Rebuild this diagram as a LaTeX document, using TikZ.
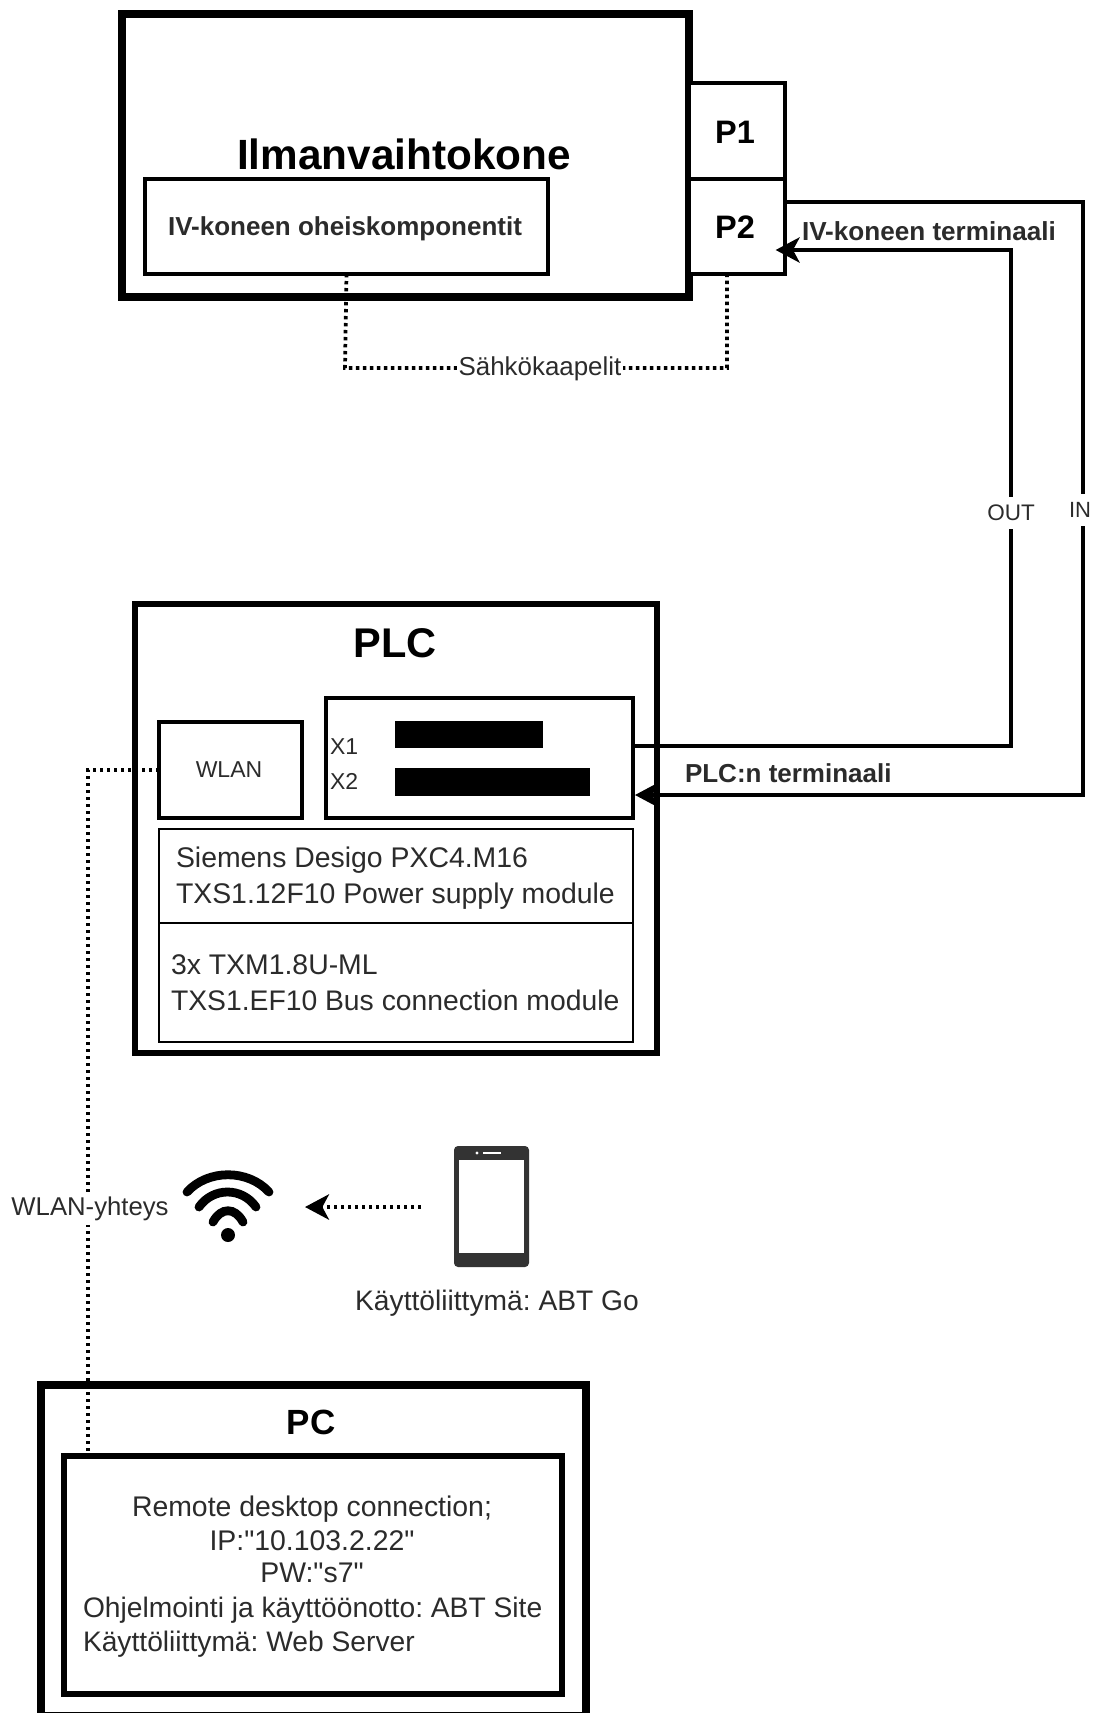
\documentclass[tikz,border=0pt]{standalone}
\usepackage{fontspec}
\setmainfont{Liberation Sans}
\newfontfamily\plainquote{Liberation Sans}[Ligatures=NoCommon]
\usetikzlibrary{arrows.meta}
\definecolor{txt}{HTML}{2B2B2B}
\newcommand{\pxfont}[1]{\fontsize{\dimexpr#1pt*3/4\relax}{\dimexpr#1pt*9/10\relax}\selectfont}
\newcommand{\bx}[6]{% name,x1,y1,x2,y2,style
  \pgfmathsetmacro{\bw}{(#4-#2)*0.75}\pgfmathsetmacro{\bh}{(#5-#3)*0.75}
  \node[#6,minimum width=\bw pt,minimum height=\bh pt] (#1) at ({(#2+#4)/2},{(#3+#5)/2}) {};}
\tikzset{
  x=0.75pt,y=-0.75pt,
  frame/.style={draw=black,fill=white,inner sep=0pt,outer sep=0pt,rectangle},
  bar/.style={draw=none,fill=black,inner sep=0pt,outer sep=0pt,rectangle},
  lab/.style={inner sep=0pt,outer sep=0pt,text=txt},
  wire/.style={line width=2.6pt,draw=black,line join=miter},
  arr/.style={-{Stealth[length=18pt,width=19pt,inset=5pt]}},
  dots/.style={line width=2.8pt,draw=black,dash pattern=on 2.6pt off 2.65pt},
  gap/.style={lab,fill=white,inner xsep=1pt,inner ysep=1pt},
  tallgap/.style={lab,fill=white,inner xsep=1pt,inner ysep=6pt},
}
\begin{document}
\frenchspacing
\begin{tikzpicture}
\useasboundingbox (0,0) rectangle (1099,1713);
\fill[white] (0,0) rectangle (1099,1713);
% ventilation unit
\bx{iv}{122}{14}{689}{297}{frame,line width=5.6pt}
\bx{pa}{689}{83}{785}{179}{frame,line width=2.7pt}
\bx{pb}{689}{179}{785}{274}{frame,line width=2.7pt}
\bx{oh}{145}{179}{548}{274}{frame,line width=2.7pt}
\node[lab,text=black,font=\pxfont{42.3}\bfseries] (ivt) at (404,154) {Ilmanvaihtokone};
\node[lab,text=black,font=\pxfont{32.5}\bfseries] (pat) at (735,132) {P1};
\node[lab,text=black,font=\pxfont{32.5}\bfseries] (pbt) at (735,227) {P2};
\node[lab,font=\pxfont{26}\bfseries] (oht) at (345,229) {IV-koneen oheiskomponentit};
% PLC
\bx{plc}{135}{604}{657}{1053}{frame,line width=4.2pt}
\bx{wl}{159}{722}{302}{818}{frame,line width=2.7pt}
\bx{xb}{326}{698}{633}{818}{frame,line width=2.7pt}
\bx{ba}{395}{721}{543}{748}{bar}
\bx{bb}{395}{768}{590}{796}{bar}
\bx{ta}{159}{829}{633}{923}{frame,line width=1.6pt}
\bx{tb}{159}{923}{633}{1042}{frame,line width=1.6pt}
\node[lab,text=black,font=\pxfont{41.5}\bfseries] (plct) at (395,643) {PLC};
\node[lab,font=\pxfont{23}] (wlt) at (229,770) {WLAN};
\node[lab,font=\pxfont{23},anchor=west] (x1) at (330,747) {X1};
\node[lab,font=\pxfont{23},anchor=west] (x2) at (330,781) {X2};
\node[lab,font=\pxfont{28.4},anchor=west] (t1) at (176,860) {Siemens Desigo PXC4.M16};
\node[lab,font=\pxfont{28.4},anchor=west] (t2) at (176,896) {TXS1.12F10 Power supply module};
\node[lab,font=\pxfont{28.4},anchor=west] (t3) at (171,965) {3x TXM1.8U-ML};
\node[lab,font=\pxfont{28.3},anchor=west] (t4) at (171,1000) {TXS1.EF10 Bus connection module};
% PC
\bx{pc}{41}{1385}{586}{1716}{frame,line width=6.2pt}
\bx{rd}{64}{1456}{562}{1694}{frame,line width=4.8pt}
\node[lab,text=black,font=\pxfont{35}\bfseries] (pct) at (311,1422) {PC};
\node[lab,font=\pxfont{28.4}] (r1) at (312,1509) {Remote desktop connection;};
\node[lab,font=\pxfont{28.4}\plainquote] (r2) at (312,1541) {IP:"10.103.2.22"};
\node[lab,font=\pxfont{28.4}\plainquote] (r3) at (312,1573) {PW:"s7"};
\node[lab,font=\pxfont{28.2},anchor=west] (r4) at (83,1610) {Ohjelmointi ja käyttöönotto: ABT Site};
\node[lab,font=\pxfont{28.2},anchor=west] (r5) at (83,1644) {Käyttöliittymä: Web Server};
% connectors
\coordinate (inr) at (1083,202);
\coordinate (inb) at (1083,795);
\coordinate (outr) at (1011,746);
\coordinate (outt) at (1011,250);
\coordinate (dotl) at (345,368);
\coordinate (dotr) at (727,368);
\coordinate (wlc) at (88,770);
\draw[dots] (oh.south) -- (dotl) -- (dotr) -- (dotr |- pb.south);
\draw[dots] (wl.west) -- (wlc) -- (wlc |- rd.north);
\draw[wire,arr] (pb.east |- inr) -- (inr) -- (inb) -- ([xshift=1.5pt]xb.east |- inb);
\draw[wire,arr] (xb.east |- outr) -- (outr) -- (outt) -- ([xshift=-7pt]pb.east |- outt);
\node[tallgap,font=\pxfont{22}] (lin) at (1080,510) {IN};
\node[tallgap,font=\pxfont{22.5}] (lout) at (1011,513) {OUT};
\node[gap,font=\pxfont{25.9}] (lsa) at (540,369) {Sähkökaapelit};
\node[lab,fill=white,inner xsep=1pt,inner ysep=3pt,font=\pxfont{25.7}] (lwl) at (90,1209) {WLAN-yhteys};
\node[lab,font=\pxfont{26.1}\bfseries,anchor=west] (liv) at (802,231) {IV-koneen terminaali};
\node[lab,font=\pxfont{26}\bfseries,anchor=west] (lplc) at (685,773) {PLC:n terminaali};
% wifi icon
\begin{scope}[line width=6.6pt,line cap=round,draw=black]
\draw (187,1192) .. controls (208,1169) and (248,1169) .. (269,1192);
\draw (199,1207) .. controls (213,1187) and (242,1187) .. (256,1207);
\draw (213,1222) .. controls (221,1207) and (235,1207) .. (243,1222);
\fill[black] (228,1235) circle (5.25pt);
\end{scope}
% phone
\bx{ph}{454}{1146}{529}{1267}{rectangle,fill=black!80,rounded corners=3pt,inner sep=0pt,outer sep=0pt}
\bx{scr}{459}{1160}{524}{1253}{rectangle,fill=white,inner sep=0pt,outer sep=0pt}
\fill[white] (477,1153) circle (1.2pt);
\fill[white] (483,1152) rectangle (501,1154);
\node[lab,font=\pxfont{28.2}] (phl) at (497,1303) {Käyttöliittymä: ABT Go};
\coordinate (arrs) at (421,1207);
\coordinate (arre) at (305,1207);
\draw[dots,arr] (arrs) -- (arre);
\end{tikzpicture}
\end{document}
